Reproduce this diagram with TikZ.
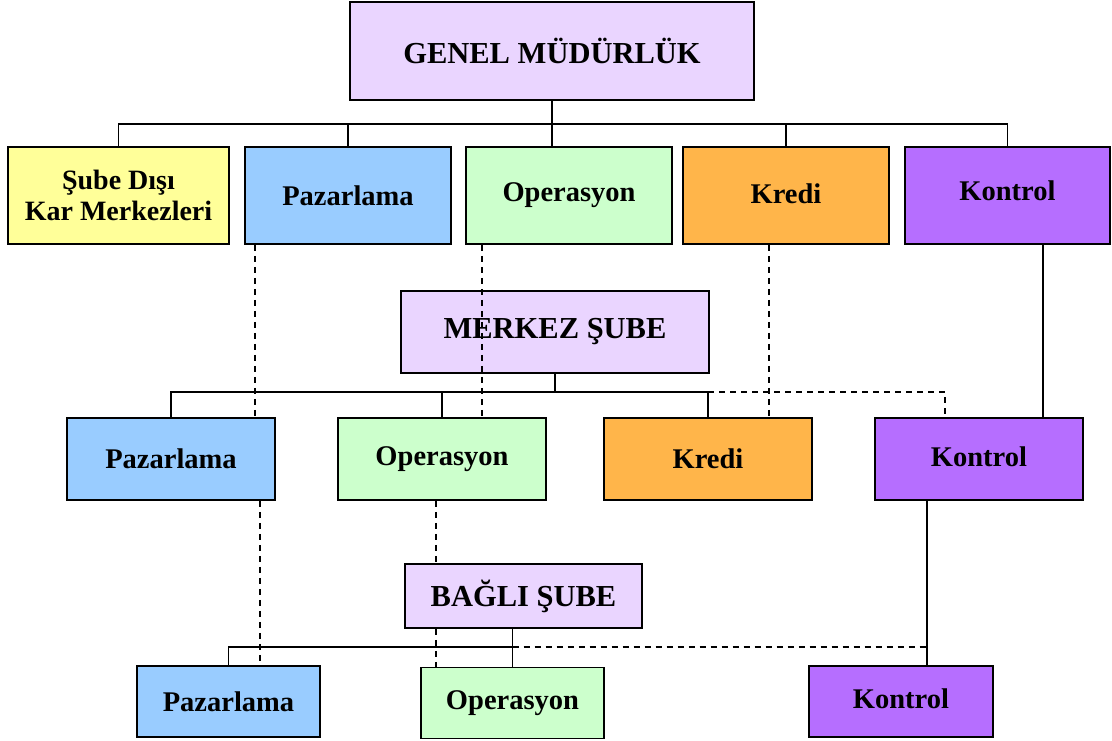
\documentclass[tikz,border=0pt]{standalone}
\usepackage{fontspec}
\setmainfont{Liberation Serif}
\usepackage{tikz}
\definecolor{lila}{HTML}{EAD5FF}
\definecolor{sari}{HTML}{FFFF99}
\definecolor{mavi}{HTML}{99CCFF}
\definecolor{yesil}{HTML}{CCFFCC}
\definecolor{turuncu}{HTML}{FFB54A}
\definecolor{mor}{HTML}{B66EFF}

\begin{document}
\begin{tikzpicture}
[x=1pt,y=-1pt,line width=1.8pt,
 every node/.style={draw=black,line width=1.8pt,align=center,inner sep=0pt,
   font=\fontsize{28.5}{31}\selectfont\bfseries},
 baslik/.style={fill=lila,font=\fontsize{30.5}{33}\selectfont\bfseries},
 kesik/.style={dash pattern=on 6pt off 5pt}]
  \useasboundingbox (0,0) rectangle (1112,741);
  % genel mudurluk
  \node[baslik,minimum width=404pt,minimum height=98pt] (gm) at (552,51) {GENEL MÜDÜRLÜK};
  \node[fill=sari,minimum width=221pt,minimum height=97pt,font=\fontsize{28}{31}\selectfont\bfseries] (sdk) at (118.5,195.5) {Şube Dışı\\Kar Merkezleri};
  \node[fill=mavi,minimum width=206pt,minimum height=97pt] (paz1) at (348,195.5) {Pazarlama};
  \node[fill=yesil,minimum width=206pt,minimum height=97pt] (ope1) at (569,195.5) {\raisebox{3pt}{Operasyon}};
  \node[fill=turuncu,minimum width=206pt,minimum height=97pt] (kre1) at (786,195.5) {\raisebox{4pt}{Kredi}};
  \node[fill=mor,minimum width=205pt,minimum height=97pt] (kon1) at (1007.5,195.5) {\raisebox{10pt}{Kontrol}};
  % merkez sube
  \node[baslik,minimum width=308pt,minimum height=82pt] (ms) at (555,332) {MERKEZ ŞUBE};
  \node[fill=mavi,minimum width=208pt,minimum height=82pt] (paz2) at (171,459) {Pazarlama};
  \node[fill=yesil,minimum width=208pt,minimum height=82pt] (ope2) at (442,459) {Operasyon};
  \node[fill=turuncu,minimum width=208pt,minimum height=82pt] (kre2) at (708,459) {Kredi};
  \node[fill=mor,minimum width=208pt,minimum height=82pt] (kon2) at (979,459) {\raisebox{4pt}{Kontrol}};
  % bagli sube
  \node[baslik,minimum width=237pt,minimum height=64pt] (bs) at (523.5,596) {BAĞLI ŞUBE};
  \node[fill=mavi,minimum width=183pt,minimum height=71pt] (paz3) at (228.5,701.5) {Pazarlama};
  \node[fill=yesil,minimum width=183pt,minimum height=71pt] (ope3) at (512.5,703) {Operasyon};
  \node[fill=mor,minimum width=184pt,minimum height=71pt] (kon3) at (901,701.5) {\raisebox{5pt}{Kontrol}};

  \coordinate (b1) at (0,124);
  \coordinate (b2) at (0,392);
  \coordinate (b3) at (0,647);
  \coordinate (p1) at ([xshift=11pt]paz1.south west);
  \coordinate (o1) at ([xshift=17pt]ope1.south west);
  \coordinate (r1) at ([xshift=87pt]kre1.south west);
  \coordinate (k1) at ([xshift=139pt]kon1.south west);
  \coordinate (p2) at ([xshift=194pt]paz2.south west);
  \coordinate (o2) at ([xshift=99pt]ope2.south west);
  \coordinate (k2) at ([xshift=53pt]kon2.south west);
  \coordinate (k2n) at ([xshift=-34pt]kon2.north);

  % first level
  \draw (gm.south) -- (gm.south |- ope1.north);
  \draw (sdk.north) -- (sdk.north |- b1) -- (kon1.north |- b1) -- (kon1.north);
  \foreach \n in {paz1,kre1}
    \draw (\n.north) -- (\n.north |- b1);
  % second level
  \draw (ms.south) -- (ms.south |- b2);
  \draw (paz2.north) -- (paz2.north |- b2) -- (kre2.north |- b2);
  \foreach \n in {ope2,kre2}
    \draw (\n.north) -- (\n.north |- b2);
  \draw[kesik] (kre2.north |- b2) -- (k2n |- b2) -- (k2n);
  \foreach \from/\to in {p1/paz2, o1/ope2, r1/kre2}
    \draw[kesik] (\from) -- (\from |- \to.north);
  \draw (k1) -- (k1 |- kon2.north);
  % third level
  \draw (bs.south -| ope3.north) -- (ope3.north);
  \draw (paz3.north) -- (paz3.north |- b3) -- (ope3.north |- b3);
  \draw[kesik] (ope3.north |- b3) -- (k2 |- b3);
  \draw[kesik] (p2) -- (p2 |- paz3.north);
  \draw[kesik] (o2) -- (o2 |- bs.north);
  \draw[kesik] (o2 |- bs.south) -- (o2 |- ope3.north);
  \draw (k2) -- (k2 |- kon3.north);
\end{tikzpicture}
\end{document}
